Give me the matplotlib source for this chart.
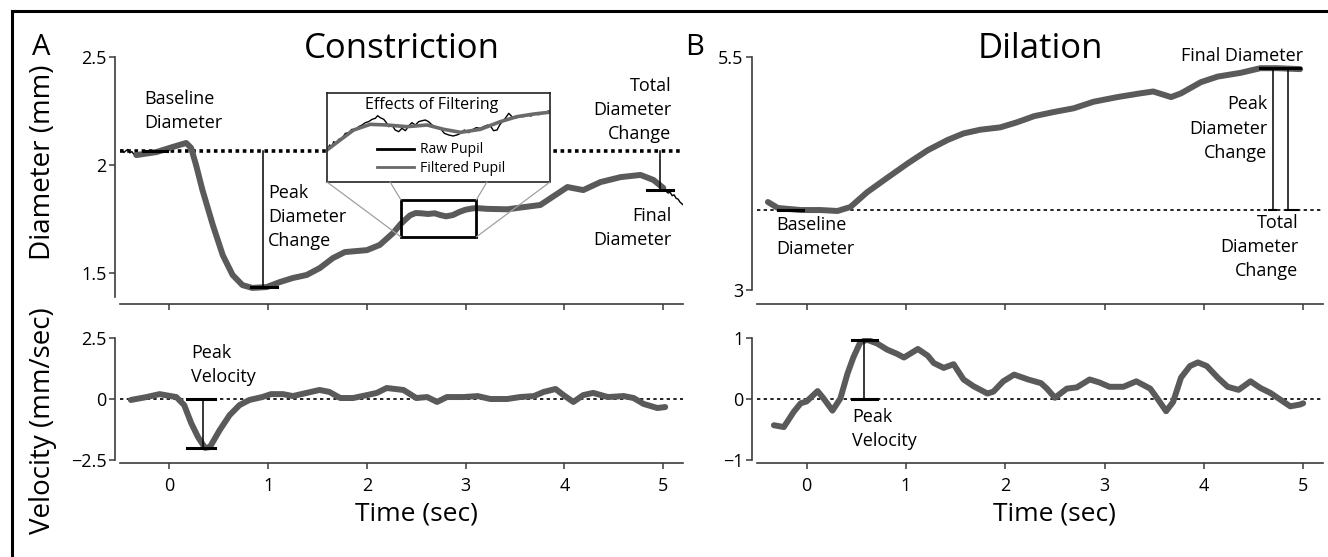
import matplotlib.pyplot as plt
import matplotlib.transforms as mtransforms
from matplotlib.patches import Rectangle, ConnectionPatch
from matplotlib.lines import Line2D

plt.rcParams['font.family'] = ['Open Sans', 'DejaVu Sans']

# Panel A - constriction, filtered pupil diameter (mm)
con_time = [-0.335, -0.13, 0.03, 0.17, 0.22, 0.27, 0.335, 0.44, 0.54, 0.64, 0.74,
            0.84, 0.985, 1.117, 1.25, 1.39, 1.523, 1.655, 1.777, 2.0, 2.13, 2.264,
            2.345, 2.436, 2.493, 2.55, 2.618, 2.687, 2.744, 2.801, 2.869, 2.937,
            2.994, 3.051, 3.102, 3.218, 3.42, 3.756, 4.03, 4.19, 4.365, 4.569,
            4.77, 4.90, 5.0]
con_diam = [2.046, 2.060, 2.083, 2.102, 2.079, 2.0, 1.884, 1.722, 1.583, 1.491, 1.444,
            1.431, 1.435, 1.458, 1.477, 1.491, 1.523, 1.569, 1.597, 1.606, 1.630, 1.685,
            1.7285, 1.7669, 1.7778, 1.7765, 1.7733, 1.7765, 1.7682, 1.7624, 1.7682, 1.7829,
            1.7925, 1.7976, 1.8008, 1.797, 1.795, 1.815, 1.898, 1.884, 1.921, 1.944,
            1.954, 1.931, 1.894]

# raw pupil trace visible at both ends
raw_start_time = [-0.50, -0.48, -0.46, -0.44, -0.42, -0.40, -0.38, -0.36, -0.34]
raw_start_diam = [2.064, 2.070, 2.058, 2.066, 2.072, 2.056, 2.062, 2.050, 2.046]
raw_end_time = [4.97, 5.0, 5.03, 5.05, 5.07, 5.09, 5.11, 5.13, 5.15, 5.17, 5.2]
raw_end_diam = [1.893, 1.885, 1.878, 1.870, 1.874, 1.858, 1.862, 1.846, 1.842, 1.828, 1.816]

# inset: effects of filtering
zoom_time = (2.345, 3.107)
zoom_diam = (1.667, 1.838)
inset_filt_time = [2.345, 2.39, 2.436, 2.493, 2.55, 2.618, 2.687, 2.744, 2.801, 2.869,
                   2.937, 2.994, 3.051, 3.102]
inset_filt_diam = [1.7285, 1.7477, 1.7669, 1.7778, 1.7765, 1.7733, 1.7765, 1.7682, 1.7624,
                   1.7682, 1.7829, 1.7925, 1.7976, 1.8008]
inset_raw_time = [2.345, 2.354, 2.362, 2.368, 2.377, 2.385, 2.396, 2.408, 2.419, 2.430,
                  2.442, 2.453, 2.465, 2.476, 2.487, 2.499, 2.510, 2.518, 2.527, 2.539,
                  2.548, 2.556, 2.567, 2.578, 2.590, 2.601, 2.613, 2.624, 2.635, 2.647,
                  2.658, 2.670, 2.681, 2.692, 2.704, 2.715, 2.732, 2.746, 2.761, 2.776,
                  2.789, 2.801, 2.814, 2.829, 2.840, 2.855, 2.869, 2.880, 2.894, 2.905,
                  2.914, 2.926, 2.935, 2.943, 2.954, 2.966, 2.977, 2.989, 3.000, 3.015,
                  3.028, 3.042, 3.057, 3.068, 3.080, 3.091, 3.102]
inset_raw_diam = [1.7272, 1.7381, 1.7349, 1.7445, 1.7413, 1.7490, 1.7510, 1.7605, 1.7618, 1.7682,
                  1.7669, 1.7733, 1.7765, 1.7810, 1.7829, 1.7874, 1.7893, 1.7944, 1.7906, 1.7874,
                  1.7810, 1.7733, 1.7765, 1.7669, 1.7637, 1.7701, 1.7656, 1.7746, 1.7810, 1.7765,
                  1.7829, 1.7848, 1.7861, 1.7829, 1.7765, 1.7733, 1.7701, 1.7605, 1.7573, 1.7554,
                  1.7573, 1.7605, 1.7669, 1.7618, 1.7669, 1.7714, 1.7701, 1.7733, 1.7765, 1.7733,
                  1.7656, 1.7669, 1.7765, 1.7829, 1.7893, 1.7989, 1.7925, 1.7893, 1.7938, 1.7925,
                  1.7957, 1.7938, 1.7989, 1.7963, 1.7989, 1.8008, 1.8034]

# Panel A - velocity (mm/sec)
con_vel_time = [-0.39, -0.23, -0.1, 0.07, 0.15, 0.22, 0.29, 0.36, 0.41, 0.51, 0.61, 0.71,
                0.81, 0.94, 1.03, 1.15, 1.25, 1.39, 1.52, 1.62, 1.73, 1.86, 2.0, 2.1, 2.2,
                2.37, 2.5, 2.61, 2.71, 2.81, 2.98, 3.12, 3.25, 3.42, 3.55, 3.69, 3.79, 3.91,
                3.99, 4.09, 4.19, 4.29, 4.44, 4.6, 4.70, 4.80, 4.94, 5.02]
con_vel = [-0.04, 0.08, 0.2, 0.08, -0.25, -0.98, -1.56, -2.0, -1.97, -1.27, -0.66, -0.25,
           -0.04, 0.08, 0.2, 0.2, 0.12, 0.25, 0.37, 0.29, 0.04, 0.04, 0.16, 0.25, 0.45,
           0.37, 0.04, 0.08, -0.12, 0.08, 0.08, 0.12, 0.0, 0.0, 0.08, 0.12, 0.29, 0.41,
           0.16, -0.12, 0.16, 0.25, 0.08, 0.12, 0.04, -0.2, -0.37, -0.33]

# Panel B - dilation, diameter (mm)
dil_time = [-0.39, -0.29, -0.06, 0.14, 0.31, 0.44, 0.61, 0.82, 1.02, 1.22, 1.42, 1.58,
            1.75, 1.95, 2.12, 2.29, 2.49, 2.69, 2.89, 3.13, 3.36, 3.49, 3.67, 3.77, 3.97,
            4.14, 4.37, 4.57, 4.74, 4.97]
dil_diam = [3.944, 3.88, 3.858, 3.858, 3.848, 3.89, 4.05, 4.21, 4.36, 4.50, 4.61, 4.68,
            4.72, 4.745, 4.80, 4.865, 4.91, 4.95, 5.02, 5.07, 5.11, 5.13, 5.07, 5.11, 5.23,
            5.29, 5.33, 5.38, 5.38, 5.37]

# Panel B - velocity (mm/sec)
dil_vel_time = [-0.33, -0.23, -0.13, -0.06, 0.0, 0.11, 0.17, 0.26, 0.34, 0.41, 0.47, 0.54,
                0.61, 0.71, 0.81, 0.91, 0.98, 1.12, 1.22, 1.28, 1.38, 1.48, 1.58, 1.68,
                1.82, 1.88, 1.98, 2.09, 2.23, 2.36, 2.42, 2.5, 2.62, 2.72, 2.85, 2.95,
                3.05, 3.19, 3.32, 3.46, 3.54, 3.62, 3.69, 3.77, 3.86, 3.94, 4.03, 4.14,
                4.24, 4.35, 4.47, 4.57, 4.67, 4.77, 4.87, 4.97, 5.0]
dil_vel = [-0.43, -0.46, -0.21, -0.07, -0.04, 0.13, 0.01, -0.19, 0.01, 0.41, 0.68, 0.93,
           0.97, 0.91, 0.81, 0.74, 0.68, 0.82, 0.71, 0.59, 0.51, 0.57, 0.32, 0.21,
           0.09, 0.12, 0.29, 0.40, 0.32, 0.26, 0.17, 0.02, 0.17, 0.19, 0.32, 0.27,
           0.2, 0.2, 0.29, 0.17, -0.01, -0.2, -0.05, 0.35, 0.54, 0.6, 0.54, 0.35,
           0.2, 0.15, 0.29, 0.18, 0.1, -0.01, -0.12, -0.09, -0.07]

# measurement markers
con_baseline, con_peak, con_final = 2.065, 1.435, 1.884
dil_baseline, dil_final = 3.858, 5.38
con_peak_vel, dil_peak_vel = -2.0, 0.97

GRAY = '#5a5a5a'
SPINE = '#3c3c3c'
W, H = 1328, 557

fig = plt.figure(figsize=(W / 100, H / 100), dpi=100)


def px_axes(x0, x1, y0, y1):
    return fig.add_axes([x0 / W, 1 - y1 / H, (x1 - x0) / W, (y1 - y0) / H])


def style(ax, ylim, yticks, ylabels, top):
    ax.set_xlim(-0.5, 5.2)
    ax.set_ylim(*ylim)
    ax.spines['top'].set_visible(False)
    ax.spines['right'].set_visible(False)
    ax.spines['left'].set_position(('outward', 3.6))
    ax.spines['bottom'].set_position(('outward', 5 if top else 2.2))
    for s in ['left', 'bottom']:
        ax.spines[s].set_color(SPINE)
        ax.spines[s].set_linewidth(1.2)
    ax.set_xticks(range(6))
    if top:
        ax.set_xticklabels([])
    ax.set_yticks(yticks)
    ax.set_yticklabels(ylabels)
    ax.tick_params(direction='out', length=4, width=1.1, color=SPINE,
                   labelsize=13, pad=2)
    ax.tick_params(axis='x', pad=6)


curve = dict(color=GRAY, lw=4.3, solid_capstyle='round', solid_joinstyle='round', zorder=3)
bar = dict(color='black', lw=2.2, zorder=4)
thin = dict(color='black', lw=1.1, zorder=4)
txt = dict(fontsize=13, linespacing=1.45, va='center')

# ---------------- Panel A diameter ----------------
axA = px_axes(120, 683, 57, 297)
style(axA, (1.389, 2.5), [1.5, 2, 2.5], ['1.5', '2', '2.5'], top=True)
axA.axhline(con_baseline, color='black', lw=2.6, ls=(0, (1, 1)), zorder=2)
axA.plot(raw_start_time, raw_start_diam, color='black', lw=1, zorder=2)
axA.plot(raw_end_time, raw_end_diam, color='black', lw=1, zorder=2)
axA.plot(con_time, con_diam, **curve)
axA.plot([-0.27, -0.02], [con_baseline] * 2, **bar)
axA.plot([0.945, 0.945], [con_baseline, con_peak], **thin)
axA.plot([0.83, 1.09], [con_peak] * 2, **bar)
axA.plot([4.97, 4.97], [con_baseline, con_final], **thin)
axA.plot([4.84, 5.10], [con_final] * 2, **bar)
axA.text(-0.25, 2.25, 'Baseline\nDiameter', ha='left', **txt)
axA.text(1.0, 1.76, 'Peak\nDiameter\nChange', ha='left', **txt)
axA.text(5.08, 2.255, 'Total\nDiameter\nChange', ha='right', **txt)
axA.text(5.08, 1.71, 'Final\nDiameter', ha='right', **txt)
axA.add_patch(Rectangle((zoom_time[0], zoom_diam[0]), zoom_time[1] - zoom_time[0],
                        zoom_diam[1] - zoom_diam[0], fill=False, ec='black', lw=2, zorder=5))

# inset
axI = px_axes(327, 550, 93, 182)
axI.set_facecolor('white')
axI.set_xlim(*zoom_time)
axI.set_ylim(*zoom_diam)
axI.set_xticks([])
axI.set_yticks([])
for s in axI.spines.values():
    s.set_linewidth(1.2)
    s.set_color('#222222')
axI.plot(inset_raw_time, inset_raw_diam, color='black', lw=1, label='Raw Pupil')
axI.plot(inset_filt_time, inset_filt_diam, color='#6a6a6a', lw=2.6,
         solid_joinstyle='round', label='Filtered Pupil')
axI.text(0.47, 0.87, 'Effects of Filtering', transform=axI.transAxes,
         ha='center', va='center', fontsize=11.5)
leg = axI.legend(loc='lower left', bbox_to_anchor=(0.18, -0.04), frameon=False,
                 fontsize=10, handlelength=2.7, handletextpad=0.4, labelspacing=0.25,
                 borderpad=0.2)
for h in leg.legend_handles:
    h.set_linewidth(2)

corners = [(zoom_time[0], zoom_diam[0]), (zoom_time[0], zoom_diam[1]),
           (zoom_time[1], zoom_diam[1]), (zoom_time[1], zoom_diam[0])]
for fx, corner in zip([0, 0.283, 0.717, 1], corners):
    con = ConnectionPatch(xyA=(fx, 0), coordsA=axI.transAxes, xyB=corner,
                          coordsB=axA.transData, color='#a0a0a0', lw=0.9, zorder=1)
    fig.add_artist(con)

# ---------------- Panel A velocity ----------------
axAv = px_axes(120, 683, 338, 460)
style(axAv, (-2.5, 2.5), [-2.5, 0, 2.5], ['\u22122.5', '0', '2.5'], top=False)
axAv.axhline(0, color='black', lw=1.2, ls=(0, (2, 2)), zorder=2)
axAv.plot(con_vel_time, con_vel, **curve)
axAv.plot([0.34, 0.34], [0, con_peak_vel], **thin)
axAv.plot([0.18, 0.46], [0, 0], **bar)
axAv.plot([0.18, 0.46], [con_peak_vel] * 2, **bar)
axAv.text(0.22, 1.39, 'Peak\nVelocity', ha='left', **txt)

# ---------------- Panel B diameter ----------------
axB = px_axes(757, 1323, 57, 297)
style(axB, (2.925, 5.5), [3, 5.5], ['3', '5.5'], top=True)
axB.spines['left'].set_bounds(3, 5.5)
axB.axhline(dil_baseline, color='black', lw=1.2, ls=(0, (2, 2)), zorder=2)
axB.plot(dil_time, dil_diam, **curve)
axB.plot([-0.29, -0.04], [dil_baseline] * 2, **bar)
axB.plot([4.57, 4.97], [dil_final] * 2, **bar)
axB.plot([4.70, 4.70], [dil_baseline, dil_final], **thin)
axB.plot([4.85, 4.85], [dil_baseline, dil_final], **thin)
axB.plot([4.66, 4.73], [dil_baseline] * 2, color='black', lw=1.5, zorder=4)
axB.plot([4.83, 4.95], [dil_baseline] * 2, color='black', lw=1.5, zorder=4)
axB.text(-0.31, 3.57, 'Baseline\nDiameter', ha='left', **txt)
axB.text(5.0, 5.51, 'Final Diameter', ha='right', **txt)
axB.text(4.64, 4.73, 'Peak\nDiameter\nChange', ha='right', **txt)
axB.text(4.95, 3.46, 'Total\nDiameter\nChange', ha='right', **txt)

# ---------------- Panel B velocity ----------------
axBv = px_axes(757, 1323, 338, 460)
style(axBv, (-1, 1), [-1, 0, 1], ['\u22121', '0', '1'], top=False)
axBv.axhline(0, color='black', lw=1.2, ls=(0, (2, 2)), zorder=2)
axBv.plot(dil_vel_time, dil_vel, **curve)
axBv.plot([0.58, 0.58], [0, dil_peak_vel], **thin)
axBv.plot([0.46, 0.71], [0, 0], **bar)
axBv.plot([0.46, 0.71], [dil_peak_vel] * 2, **bar)
axBv.text(0.46, -0.49, 'Peak\nVelocity', ha='left', **txt)

# titles, panel letters and axis labels
for ax, title in [(axA, 'Constriction'), (axB, 'Dilation')]:
    tr = mtransforms.blended_transform_factory(ax.transAxes, fig.transFigure)
    ax.text(0.5, 1 - 58 / H, title, transform=tr, ha='center', va='baseline',
            fontsize=25)
for ax in [axAv, axBv]:
    tr = mtransforms.blended_transform_factory(ax.transData, fig.transFigure)
    ax.text(2.5, 1 - 514 / H, 'Time (sec)', transform=tr, ha='center', va='center',
            fontsize=19)

fig.text(32 / W, 1 - 55 / H, 'A', fontsize=21, va='baseline', ha='left')
fig.text(685 / W, 1 - 55 / H, 'B', fontsize=21, va='baseline', ha='left')
fig.text(43 / W, 1 - 162 / H, 'Diameter (mm)', rotation=90, ha='center', va='center',
         fontsize=20)
fig.text(43 / W, 1 - 421 / H, 'Velocity (mm/sec)', rotation=90, ha='center',
         va='center', fontsize=20)

# outer frame (top and left edges)
fig.add_artist(Line2D([12 / W, 12 / W], [0, 1 - 11 / H], color='black', lw=2.2,
                      transform=fig.transFigure))
fig.add_artist(Line2D([12 / W, 1], [1 - 11 / H, 1 - 11 / H], color='black', lw=2.2,
                      transform=fig.transFigure))

fig.savefig('out.png', dpi=100)
